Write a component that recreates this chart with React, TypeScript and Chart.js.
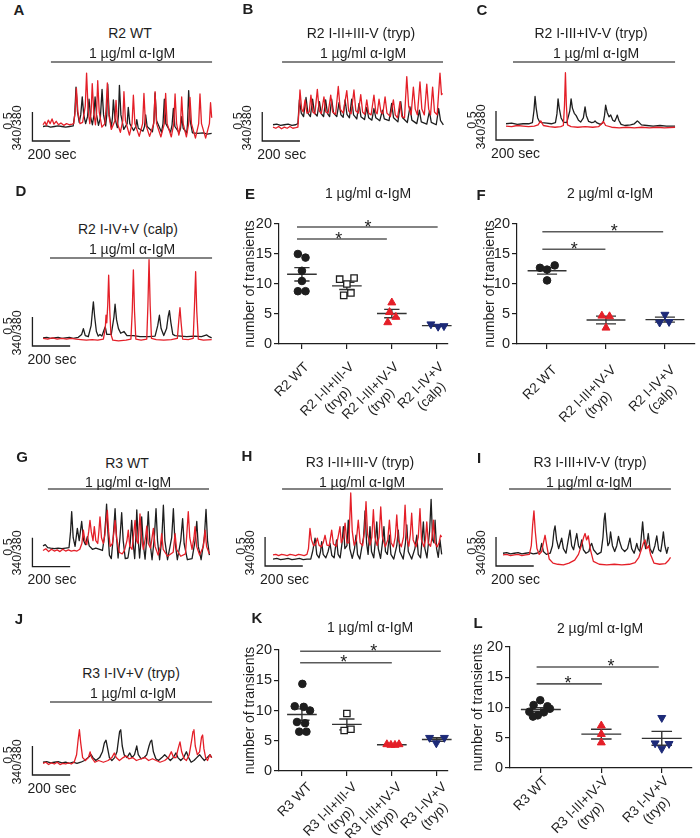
import React, { useEffect, useRef } from "react";
import { Chart, registerables } from "chart.js";

Chart.register(...registerables);

type Pt = [number, number];

const FONT = "'Liberation Sans', Arial, Helvetica, sans-serif";
const RED = "#e41f28";
const NAVY = "#1d2a78";
const INK = "#1e1e1e";
const GREY = "#5a5a5a";

const SEC_PER_PX = 5.3;
const PX_PER_RATIO = 58;
const SCALE_SEC = 200;
const SCALE_RATIO = 0.5;

// ---------------- calcium traces: [time (s), 340/380 ratio] ----------------
const aBlack: Pt[] = [[0,0.25],[20,0.26],[40,0.24],[60,0.25],[80,0.26],[100,0.25],[120,0.24],[140,0.25],[160,0.26],[168,0.45],[175,0.93],[183,0.5],[192,0.32],[200,0.45],[208,0.76],[216,0.45],[226,0.3],[236,0.42],[244,0.72],[252,0.42],[262,0.28],[270,0.45],[276,0.76],[284,0.45],[294,0.27],[304,0.4],[313,0.89],[321,0.45],[332,0.26],[338,0.45],[343,0.98],[351,0.45],[362,0.24],[368,0.4],[373,0.71],[381,0.4],[394,0.23],[400,0.45],[405,0.96],[413,0.45],[428,0.2],[446,0.3],[452,0.58],[460,0.3],[480,0.18],[492,0.25],[497,0.37],[505,0.22],[530,0.17],[538,0.25],[544,0.45],[552,0.25],[580,0.16],[588,0.35],[594,0.83],[602,0.35],[628,0.15],[636,0.3],[643,0.72],[651,0.3],[676,0.15],[684,0.28],[691,0.56],[699,0.25],[722,0.14],[729,0.22],[735,0.42],[743,0.22],[762,0.14],[766,0.3],[772,0.87],[780,0.35],[792,0.14],[820,0.13],[850,0.14],[870,0.12],[894,0.13]];
const aRed: Pt[] = [[0,0.28],[10,0.33],[18,0.27],[28,0.36],[38,0.3],[48,0.38],[58,0.29],[70,0.34],[82,0.28],[95,0.31],[110,0.27],[125,0.3],[140,0.28],[155,0.29],[163,0.3],[170,0.5],[177,0.91],[185,0.5],[196,0.3],[210,0.32],[224,0.6],[231,1.17],[239,0.55],[248,0.3],[255,0.5],[261,0.99],[269,0.5],[278,0.28],[284,0.5],[290,1.04],[298,0.5],[312,0.24],[328,0.3],[335,0.6],[341,1.0],[349,0.45],[362,0.2],[381,0.35],[387,0.7],[395,0.3],[410,0.15],[423,0.35],[429,0.85],[437,0.35],[458,0.1],[472,0.3],[479,0.79],[487,0.3],[510,0.08],[528,0.3],[535,0.82],[543,0.3],[565,0.08],[587,0.3],[594,0.85],[602,0.3],[625,0.07],[643,0.3],[650,0.82],[658,0.3],[680,0.07],[693,0.3],[700,0.81],[708,0.3],[720,0.1],[729,0.3],[735,0.76],[743,0.3],[760,0.07],[772,0.3],[779,0.75],[787,0.3],[808,0.05],[825,0.3],[832,0.81],[840,0.3],[862,0.05],[882,0.3],[888,0.66],[894,0.4]];

const bBlack: Pt[] = [[0,0.28],[20,0.29],[40,0.27],[60,0.28],[80,0.29],[100,0.27],[120,0.28],[132,0.3],[140,0.71],[150,0.48],[162,0.42],[175,0.75],[185,0.48],[198,0.42],[210,0.72],[220,0.48],[234,0.43],[246,0.68],[256,0.47],[268,0.42],[279,0.71],[289,0.47],[300,0.42],[311,0.72],[321,0.48],[338,0.42],[350,0.66],[360,0.45],[372,0.41],[382,0.71],[392,0.46],[405,0.4],[417,0.72],[427,0.45],[444,0.38],[456,0.65],[466,0.42],[485,0.37],[497,0.58],[507,0.4],[524,0.36],[535,0.56],[545,0.4],[566,0.35],[580,0.53],[590,0.38],[615,0.35],[629,0.65],[639,0.4],[662,0.33],[677,0.68],[687,0.4],[712,0.32],[726,0.59],[736,0.36],[762,0.3],[776,0.53],[786,0.33],[815,0.29],[829,0.51],[839,0.32],[865,0.28],[878,0.56],[888,0.35],[903,0.28]];
const bRed: Pt[] = [[0,0.24],[15,0.22],[30,0.25],[45,0.21],[60,0.24],[75,0.22],[90,0.25],[105,0.22],[120,0.23],[132,0.24],[137,0.5],[143,0.88],[152,0.55],[160,0.5],[170,0.71],[180,0.48],[192,0.5],[201,0.79],[211,0.5],[222,0.47],[235,0.89],[245,0.52],[256,0.47],[270,0.76],[280,0.5],[292,0.48],[306,0.79],[316,0.5],[332,0.46],[346,0.94],[356,0.55],[372,0.48],[391,0.87],[401,0.52],[414,0.47],[429,0.88],[439,0.52],[452,0.48],[465,0.8],[475,0.5],[486,0.46],[497,0.71],[507,0.48],[520,0.45],[535,0.79],[545,0.5],[552,0.47],[562,0.72],[572,0.5],[582,0.47],[594,0.76],[604,0.48],[622,0.42],[638,0.71],[648,0.45],[660,0.4],[673,0.68],[683,0.42],[697,0.4],[709,1.11],[719,0.6],[732,0.45],[744,0.93],[754,0.55],[765,0.45],[779,1.02],[789,0.55],[802,0.45],[815,0.98],[825,0.55],[835,0.45],[846,0.93],[856,0.5],[870,0.45],[885,1.17],[893,0.8],[899,0.82]];

const cBlack: Pt[] = [[0,0.28],[30,0.29],[60,0.27],[90,0.28],[120,0.28],[140,0.3],[148,0.5],[154,0.75],[160,0.55],[168,0.38],[177,0.32],[190,0.3],[216,0.29],[240,0.28],[262,0.3],[270,0.45],[276,0.71],[282,0.55],[292,0.38],[304,0.31],[322,0.3],[338,0.5],[345,0.71],[352,0.55],[362,0.46],[372,0.42],[384,0.34],[396,0.31],[410,0.38],[419,0.57],[426,0.42],[438,0.32],[454,0.3],[466,0.31],[472,0.33],[480,0.3],[500,0.27],[515,0.3],[522,0.42],[528,0.6],[536,0.48],[546,0.4],[555,0.43],[566,0.34],[576,0.32],[584,0.38],[590,0.43],[598,0.34],[610,0.27],[630,0.25],[660,0.26],[680,0.28],[690,0.31],[696,0.33],[706,0.3],[718,0.26],[746,0.25],[780,0.24],[816,0.25],[850,0.24],[896,0.24]];
const cRed: Pt[] = [[0,0.24],[30,0.23],[60,0.25],[90,0.24],[120,0.23],[150,0.24],[170,0.26],[184,0.33],[198,0.25],[230,0.23],[260,0.22],[290,0.23],[304,0.25],[310,0.6],[315,1.16],[320,0.6],[326,0.26],[345,0.23],[380,0.22],[420,0.23],[460,0.22],[490,0.23],[505,0.27],[516,0.32],[528,0.25],[560,0.22],[600,0.21],[640,0.22],[680,0.21],[720,0.22],[760,0.21],[800,0.22],[840,0.21],[896,0.22]];

const dBlack: Pt[] = [[0,0.14],[20,0.15],[40,0.13],[60,0.14],[80,0.15],[100,0.13],[120,0.14],[140,0.15],[160,0.13],[187,0.15],[205,0.2],[214,0.3],[224,0.18],[240,0.16],[255,0.35],[262,0.6],[267,0.76],[274,0.5],[283,0.25],[293,0.17],[302,0.2],[312,0.17],[324,0.28],[330,0.33],[338,0.2],[362,0.2],[376,0.5],[382,0.72],[390,0.45],[400,0.3],[412,0.22],[429,0.25],[445,0.18],[479,0.18],[514,0.16],[560,0.16],[594,0.17],[608,0.35],[617,0.53],[626,0.3],[640,0.18],[655,0.3],[663,0.5],[670,0.61],[678,0.4],[688,0.2],[700,0.18],[730,0.17],[762,0.16],[800,0.17],[840,0.16],[868,0.19],[880,0.16],[894,0.14]];
const dRed: Pt[] = [[0,0.13],[25,0.12],[50,0.14],[75,0.12],[100,0.13],[125,0.12],[150,0.13],[175,0.12],[200,0.11],[230,0.1],[260,0.11],[290,0.1],[320,0.12],[330,0.3],[334,0.53],[338,0.4],[343,0.7],[348,1.22],[354,0.6],[360,0.2],[370,0.1],[400,0.09],[440,0.1],[466,0.12],[473,0.6],[479,1.31],[485,0.6],[492,0.12],[520,0.1],[550,0.12],[556,0.7],[562,1.49],[568,0.7],[575,0.13],[600,0.11],[640,0.1],[680,0.11],[712,0.13],[720,0.45],[726,0.66],[732,0.4],[740,0.12],[770,0.11],[796,0.13],[803,0.7],[809,1.28],[815,0.6],[823,0.12],[850,0.1],[894,0.11]];

const gBlack: Pt[] = [[0,0.36],[12,0.38],[25,0.33],[40,0.32],[60,0.31],[80,0.32],[100,0.31],[120,0.32],[138,0.33],[146,0.6],[152,0.95],[160,0.5],[170,0.35],[182,0.66],[192,0.45],[205,0.78],[215,0.45],[225,0.38],[235,0.52],[245,0.36],[262,0.3],[280,0.32],[300,0.3],[315,0.28],[325,0.5],[332,0.8],[337,1.08],[344,0.6],[352,0.2],[362,0.14],[372,0.5],[382,1.0],[390,0.5],[398,0.15],[408,0.5],[417,0.93],[425,0.45],[436,0.14],[450,0.15],[462,0.4],[470,0.8],[478,0.4],[486,0.14],[492,0.5],[497,0.98],[505,0.45],[512,0.15],[518,0.4],[523,0.86],[531,0.4],[541,0.13],[550,0.5],[558,0.95],[566,0.45],[578,0.12],[590,0.5],[599,1.0],[607,0.45],[618,0.12],[630,0.5],[638,1.06],[646,0.45],[660,0.12],[682,0.5],[691,1.0],[699,0.45],[712,0.12],[730,0.45],[740,0.83],[748,0.4],[765,0.12],[790,0.14],[806,0.45],[815,0.78],[823,0.35],[838,0.12],[855,0.5],[864,0.99],[872,0.45],[882,0.2]];
const gRed: Pt[] = [[0,0.28],[15,0.31],[30,0.26],[45,0.3],[60,0.27],[75,0.29],[90,0.26],[105,0.3],[120,0.27],[135,0.29],[150,0.27],[165,0.28],[180,0.27],[195,0.3],[206,0.4],[214,0.63],[222,0.45],[232,0.38],[242,0.6],[249,0.8],[256,0.6],[265,0.45],[272,0.69],[280,0.45],[290,0.4],[296,0.6],[302,0.86],[310,0.5],[320,0.4],[328,0.55],[335,0.8],[341,0.97],[348,0.6],[356,0.35],[368,0.4],[376,0.6],[382,0.8],[390,0.5],[404,0.25],[420,0.22],[432,0.28],[445,0.45],[452,0.63],[460,0.35],[472,0.3],[482,0.6],[488,0.8],[496,0.45],[504,0.4],[514,0.91],[522,0.5],[532,0.3],[543,0.5],[550,0.7],[558,0.4],[570,0.32],[578,0.5],[585,0.66],[594,0.35],[610,0.2],[622,0.35],[629,0.57],[637,0.3],[660,0.18],[690,0.25],[700,0.57],[708,0.3],[730,0.18],[755,0.22],[763,0.6],[770,0.95],[778,0.5],[790,0.3],[800,0.5],[806,0.69],[814,0.35],[830,0.2],[850,0.35],[859,0.63],[867,0.35],[882,0.22]];

const hBlack: Pt[] = [[0,0.12],[20,0.13],[40,0.11],[60,0.12],[80,0.13],[100,0.11],[120,0.12],[140,0.13],[160,0.11],[180,0.12],[200,0.12],[210,0.25],[223,0.48],[232,0.2],[244,0.14],[252,0.25],[258,0.42],[266,0.2],[280,0.14],[292,0.25],[302,0.39],[312,0.18],[324,0.14],[330,0.3],[337,0.45],[345,0.2],[356,0.14],[366,0.4],[373,0.68],[381,0.3],[392,0.35],[399,0.79],[407,0.3],[420,0.13],[432,0.3],[440,0.53],[448,0.2],[460,0.12],[480,0.5],[488,0.95],[496,0.4],[504,0.2],[514,0.68],[522,0.25],[534,0.14],[543,0.45],[550,0.76],[558,0.3],[570,0.13],[580,0.4],[588,0.68],[596,0.25],[606,0.2],[617,0.53],[625,0.2],[640,0.12],[656,0.35],[664,0.62],[672,0.25],[690,0.12],[702,0.4],[709,0.71],[717,0.25],[735,0.12],[752,0.3],[762,0.53],[770,0.2],[782,0.14],[790,0.45],[797,0.76],[805,0.3],[816,0.14],[830,0.6],[838,1.15],[846,0.45],[853,0.4],[859,0.79],[867,0.3],[876,0.15],[885,0.45],[894,0.2]];
const hRed: Pt[] = [[0,0.19],[15,0.2],[30,0.18],[45,0.2],[60,0.19],[75,0.18],[90,0.2],[105,0.19],[120,0.18],[135,0.2],[150,0.19],[165,0.18],[180,0.2],[188,0.3],[196,0.65],[204,0.45],[215,0.35],[226,0.38],[235,0.48],[244,0.36],[256,0.33],[266,0.4],[276,0.53],[286,0.36],[298,0.35],[311,0.62],[320,0.38],[335,0.34],[348,0.55],[355,0.68],[362,0.4],[374,0.5],[382,0.74],[392,0.4],[402,0.4],[412,1.26],[420,0.6],[430,0.36],[442,0.45],[452,0.79],[462,0.4],[475,0.35],[485,0.6],[493,1.11],[501,0.55],[514,0.36],[524,0.5],[532,0.97],[540,0.5],[552,0.35],[562,0.5],[571,1.02],[580,0.5],[595,0.33],[608,0.45],[617,0.79],[626,0.4],[638,0.33],[648,0.5],[656,0.88],[664,0.45],[680,0.33],[692,0.5],[700,1.05],[708,0.5],[720,0.34],[728,0.55],[735,0.91],[743,0.45],[758,0.33],[770,0.5],[779,0.99],[787,0.45],[800,0.33],[808,0.45],[815,0.76],[823,0.4],[835,0.34],[843,0.5],[850,0.79],[858,0.4],[870,0.33],[880,0.4],[888,0.53],[894,0.5]];

const iBlack: Pt[] = [[0,0.22],[20,0.23],[40,0.21],[60,0.22],[80,0.23],[100,0.21],[120,0.22],[140,0.23],[160,0.21],[180,0.22],[196,0.25],[205,0.39],[214,0.25],[230,0.2],[250,0.22],[262,0.35],[270,0.6],[276,0.69],[284,0.45],[295,0.3],[304,0.4],[311,0.48],[320,0.3],[334,0.22],[346,0.45],[355,0.62],[364,0.35],[374,0.28],[384,0.45],[391,0.56],[400,0.35],[408,0.3],[417,0.45],[426,0.28],[440,0.22],[455,0.25],[463,0.35],[470,0.39],[480,0.28],[500,0.2],[520,0.24],[530,0.5],[536,0.8],[541,0.91],[548,0.6],[556,0.35],[564,0.4],[570,0.59],[580,0.35],[592,0.25],[603,0.35],[612,0.51],[620,0.4],[630,0.3],[645,0.25],[660,0.3],[673,0.48],[682,0.3],[695,0.22],[702,0.3],[709,0.39],[716,0.3],[726,0.25],[733,0.5],[740,0.76],[748,0.45],[756,0.3],[763,0.4],[770,0.56],[779,0.3],[792,0.22],[805,0.35],[815,0.52],[825,0.28],[836,0.25],[843,0.4],[850,0.59],[858,0.35],[868,0.22],[876,0.33]];
const iRed: Pt[] = [[0,0.19],[20,0.2],[40,0.18],[60,0.19],[80,0.2],[100,0.18],[120,0.19],[140,0.2],[150,0.35],[157,0.7],[164,0.95],[171,0.6],[180,0.3],[192,0.2],[205,0.25],[214,0.4],[223,0.53],[232,0.35],[245,0.12],[265,0.05],[290,0.03],[320,0.02],[350,0.05],[380,0.1],[400,0.2],[415,0.35],[428,0.5],[435,0.56],[443,0.45],[452,0.52],[462,0.3],[479,0.08],[510,0.03],[550,0.02],[590,0.03],[630,0.02],[670,0.03],[700,0.06],[720,0.15],[735,0.3],[745,0.4],[753,0.45],[762,0.3],[772,0.35],[782,0.2],[800,0.05],[830,0.03],[860,0.04],[878,0.1],[888,0.15]];

const jBlack: Pt[] = [[0,0.22],[20,0.23],[40,0.21],[60,0.22],[80,0.23],[100,0.21],[120,0.22],[140,0.2],[160,0.22],[180,0.2],[200,0.22],[220,0.25],[240,0.3],[255,0.35],[265,0.3],[280,0.25],[300,0.3],[315,0.4],[325,0.55],[334,0.6],[343,0.45],[352,0.3],[365,0.25],[380,0.3],[392,0.4],[400,0.6],[406,0.75],[412,0.78],[420,0.5],[430,0.35],[445,0.3],[460,0.38],[472,0.3],[485,0.35],[497,0.5],[505,0.35],[520,0.28],[535,0.3],[550,0.35],[562,0.5],[570,0.58],[576,0.6],[585,0.4],[598,0.28],[612,0.25],[630,0.3],[645,0.35],[660,0.3],[675,0.25],[690,0.3],[705,0.38],[715,0.3],[730,0.25],[745,0.3],[760,0.4],[772,0.3],[785,0.22],[800,0.25],[815,0.3],[830,0.35],[842,0.3],[855,0.25],[870,0.3],[885,0.35],[894,0.3]];
const jRed: Pt[] = [[0,0.2],[15,0.22],[30,0.18],[45,0.21],[60,0.19],[75,0.22],[90,0.18],[105,0.2],[120,0.19],[135,0.21],[150,0.19],[165,0.22],[178,0.35],[186,0.6],[193,0.78],[200,0.55],[210,0.3],[225,0.25],[240,0.3],[250,0.4],[258,0.3],[275,0.22],[295,0.25],[320,0.22],[345,0.25],[365,0.3],[378,0.38],[388,0.3],[405,0.25],[425,0.3],[440,0.33],[455,0.28],[475,0.3],[495,0.25],[520,0.28],[540,0.3],[560,0.25],[580,0.28],[600,0.25],[620,0.22],[645,0.25],[665,0.3],[680,0.4],[692,0.3],[705,0.3],[716,0.45],[726,0.57],[735,0.4],[748,0.28],[760,0.25],[775,0.35],[788,0.6],[795,0.75],[800,0.78],[807,0.5],[818,0.35],[830,0.4],[840,0.65],[846,0.69],[853,0.45],[862,0.3],[872,0.25],[884,0.35],[894,0.3]];

// antibody application window (s)
const stimA: Pt = [42, 896];
const stimB: Pt = [48, 901];
const stimC: Pt = [37, 896];
const stimD: Pt = [37, 896];
const stimG: Pt = [26, 880];
const stimH: Pt = [48, 901];
const stimI: Pt = [32, 890];
const stimJ: Pt = [37, 896];

// ---------------- number of transients ----------------
const eCats = [["R2 WT"], ["R2 I-II+III-V", "(tryp)"], ["R2 I-III+IV-V", "(tryp)"], ["R2 I-IV+V", "(calp)"]];
const eWT = [15.0, 14.4, 12.2, 10.5, 8.8, 8.8];
const eWTx = [-0.09, 0.08, 0, 0, -0.09, 0.08];
const eI2 = [10.8, 11.0, 10.0, 8.1, 8.5];
const eI2x = [-0.16, 0.16, 0, -0.07, 0.09];
const eI3 = [6.9, 5.3, 4.5, 3.6];
const eI3x = [0, -0.05, 0.09, -0.09];
const eI4 = [3.3, 2.9, 3.0];
const eI4x = [-0.13, 0.03, 0.16];

const fCats = [["R2 WT"], ["R2 I-III+IV-V", "(tryp)"], ["R2 I-IV+V", "(calp)"]];
const fWT = [12.7, 12.4, 13.1, 10.6];
const fWTx = [-0.12, 0, 0.13, 0];
const fI3 = [4.7, 4.6, 2.7];
const fI3x = [-0.07, 0.06, 0];
const fI4 = [4.9, 3.6, 3.7];
const fI4x = [0, -0.09, 0.07];

const kCats = [["R3 WT"], ["R3 I-II+III-V", "(tryp)"], ["R3 I-III+IV-V", "(tryp)"], ["R3 I-IV+V", "(tryp)"]];
const kWT = [14.4, 10.7, 10.6, 10.0, 8.1, 7.9, 6.5, 6.5];
const kWTx = [0.01, -0.16, 0.04, 0.18, -0.11, 0.07, -0.06, 0.1];
const kI2 = [9.5, 6.7, 6.9];
const kI2x = [0, -0.06, 0.09];
const kI3 = [4.4, 4.3, 4.3, 4.4];
const kI3x = [-0.11, -0.02, 0.07, 0.16];
const kI4 = [5.5, 4.6, 5.5];
const kI4x = [-0.16, -0.01, 0.17];

const lCats = [["R3 WT"], ["R3 I-III+IV-V", "(tryp)"], ["R3 I-IV+V", "(tryp)"]];
const lWT = [11.2, 10.4, 10.2, 9.8, 9.3, 9.2, 8.7, 8.5];
const lWTx = [-0.01, -0.12, 0.11, 0.15, -0.19, 0.05, -0.05, -0.13];
const lI3 = [7.0, 5.6, 4.2];
const lI3x = [0, 0, 0];
const lI4 = [8.3, 4.1, 3.2, 4.0];
const lI4x = [0, -0.11, 0, 0.12];

// significance bars: [from, to, level, star position]
const eSig = [[-0.11, 3.02, 19.5, 1.47], [-0.11, 1.89, 17.5, 0.82]];
const fSig = [[-0.08, 1.97, 18.7, 1.14], [-0.08, 0.99, 15.8, 0.46]];
const kSig = [[-0.04, 3.09, 19.8, 1.6], [-0.04, 2.0, 17.9, 0.93]];
const lSig = [[-0.07, 1.95, 16.7, 1.16], [-0.07, 1.01, 13.9, 0.45]];

// ---------------- components ----------------
function Txt(props: { x: number; y: number; size?: number; bold?: boolean; rot?: boolean; left?: boolean; children: React.ReactNode }) {
  const { x, y, size = 14, bold = false, rot = false, left = false, children } = props;
  return (
    <div
      style={{
        position: "absolute", left: x, top: y,
        transform: `translate(${left ? "0" : "-50%"}, -50%)${rot ? " rotate(-90deg)" : ""}`,
        fontFamily: FONT, fontSize: size, fontWeight: bold ? 700 : 400,
        lineHeight: 1, whiteSpace: "nowrap", color: INK,
      }}
    >
      {children}
    </div>
  );
}

interface TraceCfg {
  letter: string; letterPos: Pt; title: string; titlePos: Pt; stimText: string; stimPos: Pt;
  left: number; top: number; width: number; height: number;
  originX: number; originY: number; stimLevel: number; barT: number;
  black: Pt[]; red: Pt[]; stim: Pt;
}

function TraceChart({ cfg }: { cfg: TraceCfg }) {
  const ref = useRef<HTMLCanvasElement>(null);
  useEffect(() => {
    const c = cfg;
    const xmin = (c.left - c.originX) * SEC_PER_PX;
    const xmax = (c.left + c.width - c.originX) * SEC_PER_PX;
    const ymax = (c.originY - c.top) / PX_PER_RATIO;
    const ymin = (c.originY - c.top - c.height) / PX_PER_RATIO;
    const xy = (p: Pt[]) => p.map(([x, y]) => ({ x, y }));
    const common = { pointRadius: 0, tension: 0, fill: false, clip: false as any, borderJoinStyle: "round" as const };
    const chart = new Chart(ref.current!, {
      type: "line",
      data: {
        datasets: [
          { ...common, data: xy(c.red), borderColor: RED, borderWidth: 1.3 },
          { ...common, data: xy(c.black), borderColor: INK, borderWidth: 1.3 },
          { ...common, data: [{ x: c.stim[0], y: c.stimLevel }, { x: c.stim[1], y: c.stimLevel }], borderColor: GREY, borderWidth: 1.6 },
          { ...common, data: [{ x: c.barT, y: SCALE_RATIO }, { x: c.barT, y: 0 }, { x: c.barT + SCALE_SEC, y: 0 }], borderColor: INK, borderWidth: 1.3, borderJoinStyle: "miter" as const },
        ],
      },
      options: {
        animation: false, responsive: false, maintainAspectRatio: false,
        layout: { padding: 0 },
        plugins: { legend: { display: false }, tooltip: { enabled: false } },
        scales: {
          x: { type: "linear", display: false, min: xmin, max: xmax },
          y: { type: "linear", display: false, min: ymin, max: ymax },
        },
      },
    });
    return () => chart.destroy();
  }, [cfg]);
  const barX = cfg.originX + cfg.barT / SEC_PER_PX;
  return (
    <>
      <canvas ref={ref} width={cfg.width} height={cfg.height}
        style={{ position: "absolute", left: cfg.left, top: cfg.top, width: cfg.width, height: cfg.height }} />
      <Txt x={cfg.letterPos[0]} y={cfg.letterPos[1]} size={15} bold>{cfg.letter}</Txt>
      <Txt x={cfg.titlePos[0]} y={cfg.titlePos[1]}>{cfg.title}</Txt>
      <Txt x={cfg.stimPos[0]} y={cfg.stimPos[1]}>{cfg.stimText}</Txt>
      <Txt x={barX - 24} y={cfg.originY - 20} size={12.5} rot>0.5</Txt>
      <Txt x={barX - 15} y={cfg.originY - 13.5} size={12.5} rot>340/380</Txt>
      <Txt x={barX - 5} y={cfg.originY + 12.5} left>200 sec</Txt>
    </>
  );
}

interface Group { values: number[]; jitter: number[]; kind: "circle" | "square" | "tri" | "inv" }
interface ScatterCfg {
  letter: string; letterPos: Pt; title: string; titlePos: Pt;
  left: number; top: number; width: number; height: number;
  axisW: number; padTop: number; padRight: number; bottom: number; xmax: number; titlePad: number;
  labelDx: number; labelDy: number;
  cats: string[][]; groups: Group[]; sigs: number[][];
}

function styleFor(kind: Group["kind"]) {
  switch (kind) {
    case "circle": return { pointStyle: "circle", pointRadius: 3.8, pointBackgroundColor: INK, pointBorderColor: INK, pointBorderWidth: 1, pointRotation: 0 };
    case "square": return { pointStyle: "rect", pointRadius: 4.5, pointBackgroundColor: "#ffffff", pointBorderColor: INK, pointBorderWidth: 1.3, pointRotation: 0 };
    case "tri": return { pointStyle: "triangle", pointRadius: 4.6, pointBackgroundColor: RED, pointBorderColor: RED, pointBorderWidth: 1, pointRotation: 0 };
    default: return { pointStyle: "triangle", pointRadius: 4.6, pointBackgroundColor: NAVY, pointBorderColor: NAVY, pointBorderWidth: 1, pointRotation: 180 };
  }
}

function ScatterChart({ cfg }: { cfg: ScatterCfg }) {
  const ref = useRef<HTMLCanvasElement>(null);
  useEffect(() => {
    const c = cfg;
    const deco = {
      id: "deco",
      beforeDatasetsDraw(chart: any) {
        const { ctx } = chart;
        const xs = chart.scales.x, ys = chart.scales.y;
        ctx.save();
        ctx.strokeStyle = "#333";
        ctx.lineWidth = 1.4;
        c.groups.forEach((g, i) => {
          const n = g.values.length;
          const mean = g.values.reduce((a, b) => a + b, 0) / n;
          const sd = Math.sqrt(g.values.reduce((a, b) => a + (b - mean) * (b - mean), 0) / (n - 1));
          const sem = sd / Math.sqrt(n);
          const cx = xs.getPixelForValue(i);
          const wm = xs.getPixelForValue(i + 0.33) - cx;
          const ws = xs.getPixelForValue(i + 0.17) - cx;
          const ym = ys.getPixelForValue(mean), yt = ys.getPixelForValue(mean + sem), yb = ys.getPixelForValue(mean - sem);
          ctx.beginPath();
          ctx.moveTo(cx - wm, ym); ctx.lineTo(cx + wm, ym);
          ctx.moveTo(cx - ws, yt); ctx.lineTo(cx + ws, yt);
          ctx.moveTo(cx - ws, yb); ctx.lineTo(cx + ws, yb);
          ctx.moveTo(cx, yt); ctx.lineTo(cx, yb);
          ctx.stroke();
        });
        ctx.restore();
      },
      afterDraw(chart: any) {
        const { ctx, chartArea } = chart;
        const xs = chart.scales.x, ys = chart.scales.y;
        ctx.save();
        ctx.strokeStyle = GREY;
        ctx.lineWidth = 1.6;
        ctx.fillStyle = INK;
        ctx.font = `18px ${FONT}`;
        ctx.textAlign = "center";
        ctx.textBaseline = "alphabetic";
        c.sigs.forEach(([x0, x1, lvl, sx]) => {
          const y = ys.getPixelForValue(lvl);
          ctx.beginPath();
          ctx.moveTo(xs.getPixelForValue(x0), y);
          ctx.lineTo(xs.getPixelForValue(x1), y);
          ctx.stroke();
          ctx.fillText("*", xs.getPixelForValue(sx), y + 5.5);
        });
        ctx.font = `13.5px ${FONT}`;
        ctx.fillStyle = INK;
        ctx.textBaseline = "middle";
        c.cats.forEach((lines, i) => {
          const x = xs.getPixelForValue(i) + c.labelDx;
          const y = chartArea.bottom + c.labelDy;
          ctx.save();
          ctx.translate(x, y);
          ctx.rotate(-Math.PI / 4);
          ctx.textAlign = "right";
          ctx.fillText(lines[0], 0, 0);
          if (lines[1]) {
            const w = ctx.measureText(lines[0]).width;
            ctx.textAlign = "center";
            ctx.fillText(lines[1], -w / 2, 15);
          }
          ctx.restore();
        });
        ctx.restore();
      },
    };
    const chart = new Chart(ref.current!, {
      type: "scatter",
      data: {
        datasets: c.groups.map((g, i) => ({
          data: g.values.map((v, j) => ({ x: i + g.jitter[j], y: v })),
          ...(styleFor(g.kind) as any),
          showLine: false,
          clip: false as any,
        })),
      },
      options: {
        animation: false, responsive: false, maintainAspectRatio: false,
        layout: { padding: { left: 0, top: c.padTop, right: c.padRight, bottom: 0 } },
        plugins: { legend: { display: false }, tooltip: { enabled: false } },
        scales: {
          x: {
            type: "linear", min: -0.51, max: c.xmax,
            afterBuildTicks: (ax: any) => { ax.ticks = c.cats.map((_, i) => ({ value: i })); },
            afterFit: (ax: any) => { ax.height = c.height - c.bottom; },
            ticks: { autoSkip: false, maxRotation: 0, callback: () => "" },
            grid: { drawOnChartArea: false, color: INK, lineWidth: 1.2, tickLength: 5 },
            border: { display: true, color: INK, width: 1.2 },
          },
          y: {
            type: "linear", min: 0, max: 20,
            afterFit: (ax: any) => { ax.width = c.axisW; },
            ticks: { stepSize: 5, color: INK, padding: 2, font: { family: FONT, size: 14.5 } },
            grid: { drawOnChartArea: false, color: INK, lineWidth: 1.2, tickLength: 5 },
            border: { display: true, color: INK, width: 1.2 },
            title: { display: true, text: "number of transients", color: INK, font: { family: FONT, size: 14 }, padding: { top: c.titlePad, bottom: 0 } },
          },
        },
      },
      plugins: [deco],
    });
    return () => chart.destroy();
  }, [cfg]);
  return (
    <>
      <canvas ref={ref} width={cfg.width} height={cfg.height}
        style={{ position: "absolute", left: cfg.left, top: cfg.top, width: cfg.width, height: cfg.height }} />
      <Txt x={cfg.letterPos[0]} y={cfg.letterPos[1]} size={15} bold>{cfg.letter}</Txt>
      <Txt x={cfg.titlePos[0]} y={cfg.titlePos[1]}>{cfg.title}</Txt>
    </>
  );
}

const IGM1 = "1 µg/ml α-IgM";
const IGM2 = "2 µg/ml α-IgM";

const traces: TraceCfg[] = [
  { letter: "A", letterPos: [19, 9], title: "R2 WT", titlePos: [130, 32.5], stimText: IGM1, stimPos: [132, 52.5],
    left: 0, top: 56, width: 228, height: 92, originX: 43, originY: 141, stimLevel: 1.362, barT: -56, black: aBlack, red: aRed, stim: stimA },
  { letter: "B", letterPos: [248, 8], title: "R2 I-II+III-V (tryp)", titlePos: [361, 32.5], stimText: IGM1, stimPos: [363, 52.5],
    left: 230, top: 56, width: 228, height: 92, originX: 273, originY: 141, stimLevel: 1.362, barT: -57, black: bBlack, red: bRed, stim: stimB },
  { letter: "C", letterPos: [482, 9], title: "R2 I-III+IV-V (tryp)", titlePos: [591, 33], stimText: IGM1, stimPos: [596, 53],
    left: 460, top: 56, width: 236, height: 92, originX: 506, originY: 140, stimLevel: 1.345, barT: -53, black: cBlack, red: cRed, stim: stimC },
  { letter: "D", letterPos: [21, 190], title: "R2 I-IV+V (calp)", titlePos: [128, 228.5], stimText: IGM1, stimPos: [132, 249],
    left: 0, top: 252, width: 228, height: 100, originX: 43, originY: 346, stimLevel: 1.517, barT: -56, black: dBlack, red: dRed, stim: stimD },
  { letter: "G", letterPos: [22, 456], title: "R3 WT", titlePos: [127, 462.5], stimText: IGM1, stimPos: [128, 482],
    left: 0, top: 483, width: 228, height: 92, originX: 43, originY: 566.7, stimLevel: 1.34, barT: -56, black: gBlack, red: gRed, stim: stimG },
  { letter: "H", letterPos: [247, 455], title: "R3 I-II+III-V (tryp)", titlePos: [360, 462], stimText: IGM1, stimPos: [362, 482],
    left: 230, top: 483, width: 228, height: 92, originX: 273, originY: 566, stimLevel: 1.328, barT: -42, black: hBlack, red: hRed, stim: stimH },
  { letter: "I", letterPos: [479, 457], title: "R3 I-III+IV-V (tryp)", titlePos: [590, 462], stimText: IGM1, stimPos: [589, 482],
    left: 460, top: 483, width: 236, height: 92, originX: 503, originY: 566, stimLevel: 1.328, barT: -37, black: iBlack, red: iRed, stim: stimI },
  { letter: "J", letterPos: [19, 618], title: "R3 I-IV+V (tryp)", titlePos: [131, 673], stimText: IGM1, stimPos: [133, 693],
    left: 0, top: 696, width: 228, height: 86, originX: 43, originY: 775, stimLevel: 1.259, barT: -56, black: jBlack, red: jRed, stim: stimJ },
];

const scatters: ScatterCfg[] = [
  { letter: "E", letterPos: [250, 193], title: IGM1, titlePos: [368, 193], left: 230, top: 200, width: 240, height: 225,
    axisW: 49, padTop: 24, padRight: 22, bottom: 144, xmax: 3.25, titlePad: 12, labelDx: 5, labelDy: 21, cats: eCats,
    groups: [{ values: eWT, jitter: eWTx, kind: "circle" }, { values: eI2, jitter: eI2x, kind: "square" }, { values: eI3, jitter: eI3x, kind: "tri" }, { values: eI4, jitter: eI4x, kind: "inv" }], sigs: eSig },
  { letter: "F", letterPos: [481, 194], title: IGM2, titlePos: [610, 193], left: 460, top: 200, width: 240, height: 225,
    axisW: 57, padTop: 24, padRight: 1, bottom: 144, xmax: 2.5, titlePad: 22, labelDx: 8, labelDy: 24, cats: fCats,
    groups: [{ values: fWT, jitter: fWTx, kind: "circle" }, { values: fI3, jitter: fI3x, kind: "tri" }, { values: fI4, jitter: fI4x, kind: "inv" }], sigs: fSig },
  { letter: "K", letterPos: [257, 617], title: IGM1, titlePos: [370, 627], left: 230, top: 625, width: 240, height: 213,
    axisW: 49, padTop: 25, padRight: 22, bottom: 146, xmax: 3.25, titlePad: 12, labelDx: 8, labelDy: 14, cats: kCats,
    groups: [{ values: kWT, jitter: kWTx, kind: "circle" }, { values: kI2, jitter: kI2x, kind: "square" }, { values: kI3, jitter: kI3x, kind: "tri" }, { values: kI4, jitter: kI4x, kind: "inv" }], sigs: kSig },
  { letter: "L", letterPos: [478, 622], title: IGM2, titlePos: [600, 628], left: 460, top: 622, width: 240, height: 216,
    axisW: 50, padTop: 25, padRight: 8, bottom: 146, xmax: 2.5, titlePad: 10, labelDx: 5, labelDy: 11, cats: lCats,
    groups: [{ values: lWT, jitter: lWTx, kind: "circle" }, { values: lI3, jitter: lI3x, kind: "tri" }, { values: lI4, jitter: lI4x, kind: "inv" }], sigs: lSig },
];

export default function App() {
  return (
    <div style={{ position: "absolute", left: 0, top: 0, width: 700, height: 838, background: "#ffffff", overflow: "hidden" }}>
      {traces.map((t) => <TraceChart key={t.letter} cfg={t} />)}
      {scatters.map((s) => <ScatterChart key={s.letter} cfg={s} />)}
    </div>
  );
}
